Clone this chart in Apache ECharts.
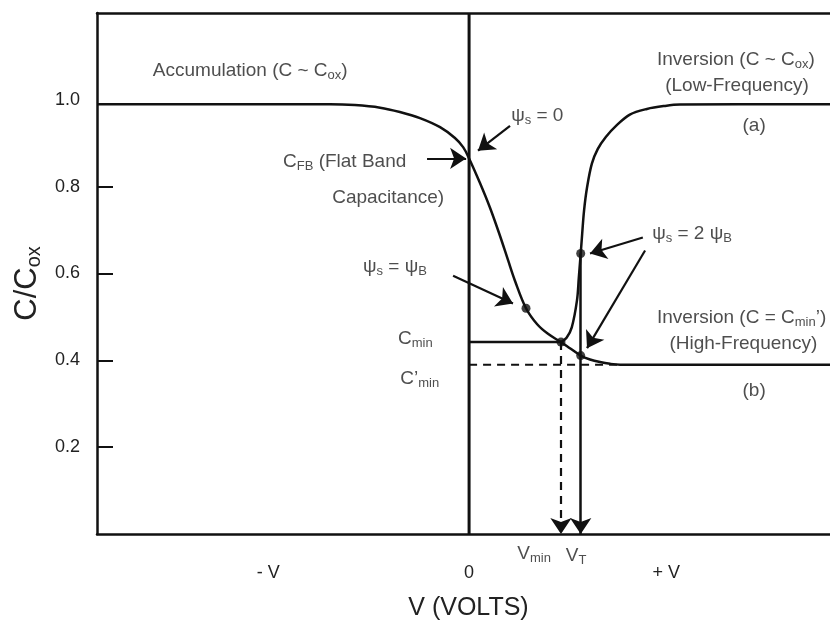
<!DOCTYPE html>
<html>
<head>
<meta charset="utf-8">
<script src="https://cdn.jsdelivr.net/npm/echarts@6/dist/echarts.min.js"></script>
<style>
  html, body { margin: 0; padding: 0; background: #fff; }
  #chart { width: 830px; height: 621px; }
</style>
</head>
<body>
<div id="chart"></div>
<script>
// MOS capacitor C-V characteristic (normalised capacitance vs gate voltage)

// Characteristic voltages and capacitances
const V_MIN = 2.47;
const V_T = 3.0;
const C_FB = 0.865;
const C_MIN = 0.442;
const C_MIN_HF = 0.39;
const V_PSI_B = 1.53;
const C_PSI_B = 0.52;
const C_VT_HF = 0.411;
const C_VT_LF = 0.646;

// High-frequency curve: accumulation -> depletion -> inversion (b)
const hfVolts = [-10, -3.74, -3.07, -2.39, -1.86, -1.32, -0.78, -0.38, -0.16, 0,
  0.29, 0.56, 0.83, 1.05, 1.23, 1.53, 1.83, 2.12, 2.47, 2.71, 3.0, 3.25, 3.52,
  3.79, 4.06, 4.46, 9.7];
const hfCap = [0.99, 0.99, 0.988, 0.982, 0.972, 0.958, 0.937, 0.912, 0.891, 0.865,
  0.809, 0.752, 0.687, 0.630, 0.584, 0.520, 0.483, 0.461, 0.442, 0.428, 0.411, 0.402, 0.396,
  0.392, 0.39, 0.39, 0.39];

// Low-frequency branch rising out of C_min: inversion (a)
const lfVolts = [2.47, 2.62, 2.76, 2.90, 2.95, 3.0, 3.04, 3.09, 3.17, 3.30, 3.46,
  3.68, 3.95, 4.32, 4.78, 5.27, 5.67, 9.7];
const lfCap = [0.442, 0.452, 0.476, 0.538, 0.591, 0.646, 0.692, 0.745, 0.798, 0.853,
  0.887, 0.915, 0.940, 0.966, 0.979, 0.986, 0.989, 0.99];

// Axis tick labels
const yTickValues = [0.2, 0.4, 0.6, 0.8, 1.0];
const yTickMarks = [0.2, 0.4, 0.6, 0.8];
const xTickValues = [-5.4, 0, 5.3];
const xTickLabels = ['- V', '0', '+ V'];

const FONT = '"Liberation Sans", Arial, sans-serif';
const INK = '#111';
const TEXT = '#222';

const rich = {
  n: { fontSize: 19, fontFamily: FONT, color: TEXT, lineHeight: 22 },
  s: { fontSize: 13, fontFamily: FONT, color: TEXT, lineHeight: 13,
       padding: [11, 0, 0, 0], verticalAlign: 'bottom' }
};

const zip = (xs, ys) => xs.map((x, i) => [x, ys[i]]);

// Text annotations: [x, y] anchor in data space, rich text, alignment, pixel offset
const notes = [
  { at: [-8.5, 1.067], text: '{n|Accumulation (C ~ C}{s|ox}{n|)}', align: 'left' },
  { at: [1.13, 0.963], text: '{n|ψ}{s|s}{n| = 0}', align: 'left' },
  { at: [-5.0, 0.858], text: '{n|C}{s|FB}{n| (Flat Band}', align: 'left' },
  { at: [-3.68, 0.775], text: '{n|Capacitance)}', align: 'left' },
  { at: [-2.85, 0.615], text: '{n|ψ}{s|s}{n| = ψ}{s|B}', align: 'left' },
  { at: [-1.91, 0.450], text: '{n|C}{s|min}', align: 'left' },
  { at: [-1.85, 0.358], text: '{n|C’}{s|min}', align: 'left' },
  { at: [4.92, 0.692], text: '{n|ψ}{s|s}{n| = 2 ψ}{s|B}', align: 'left' },
  { at: [5.05, 1.092], text: '{n|Inversion (C ~ C}{s|ox}{n|)}', align: 'left' },
  { at: [7.20, 1.032], text: '{n|(Low-Frequency)}', align: 'center' },
  { at: [7.66, 0.940], text: '{n|(a)}', align: 'center' },
  { at: [5.05, 0.497], text: '{n|Inversion (C = C}{s|min}{n|’)}', align: 'left' },
  { at: [7.37, 0.439], text: '{n|(High-Frequency)}', align: 'center' },
  { at: [7.66, 0.331], text: '{n|(b)}', align: 'center' },
  { at: [V_MIN, -0.045], text: '{n|V}{s|min}', align: 'right', offset: [-10, 0] },
  { at: [V_T, -0.05], text: '{n|V}{s|T}', align: 'left', offset: [-15, 0] }
];

// Pointer arrows: [tail, tip] in data space
const pointers = [
  [[1.10, 0.940], [0.24, 0.883]],
  [[-1.13, C_FB], [-0.08, C_FB]],
  [[-0.43, 0.595], [V_PSI_B - 0.35, C_PSI_B + 0.011]],
  [[4.67, 0.683], [V_T + 0.25, C_VT_LF]],
  [[4.73, 0.653], [V_T + 0.17, C_VT_HF + 0.017]]
];

const chart = echarts.init(document.getElementById('chart'), null, { renderer: 'canvas' });

const plainLine = (data, extra) => Object.assign({
  type: 'line', data, showSymbol: false, symbol: 'none', silent: true,
  lineStyle: { color: INK, width: 2.5 }, animation: false, z: 3
}, extra || {});

chart.setOption({
  animation: false,
  backgroundColor: '#fff',
  grid: { left: 97, right: 0, top: 13, bottom: 87, containLabel: false, outerBoundsMode: 'none' },
  xAxis: [{
    type: 'value', min: -10, max: 9.7,
    name: 'V (VOLTS)', nameLocation: 'middle', nameGap: 62,
    nameTextStyle: { fontSize: 25, fontFamily: FONT, color: TEXT, padding: [0, 0, 0, 10] },
    axisLine: { show: true, onZero: false, lineStyle: { color: INK, width: 2.5 } },
    axisTick: { show: false },
    splitLine: { show: false },
    axisLabel: {
      customValues: xTickValues, margin: 30,
      fontSize: 18, fontFamily: FONT, color: TEXT,
      formatter: v => xTickLabels[xTickValues.indexOf(v)] || ''
    }
  }, {
    type: 'value', min: -10, max: 9.7, position: 'top',
    axisLine: { show: true, onZero: false, lineStyle: { color: INK, width: 2.5 } },
    axisTick: { show: false }, axisLabel: { show: false }, splitLine: { show: false }
  }],
  yAxis: {
    type: 'value', min: 0, max: 1.2,
    name: '{m|C/C}{ms|ox}', nameLocation: 'middle', nameRotate: 90, nameGap: 52,
    nameTextStyle: {
      padding: [0, 20, 0, 0],
      rich: {
        m: { fontSize: 31, fontFamily: FONT, color: TEXT, lineHeight: 34 },
        ms: { fontSize: 20, fontFamily: FONT, color: TEXT, lineHeight: 20,
              padding: [15, 0, 0, 0], verticalAlign: 'bottom' }
      }
    },
    axisLine: { show: true, onZero: false, lineStyle: { color: INK, width: 2.5 } },
    axisTick: { show: true, inside: true, length: 16, customValues: yTickMarks,
                lineStyle: { color: INK, width: 2 } },
    splitLine: { show: false },
    axisLabel: {
      customValues: yTickValues, margin: 17,
      fontSize: 18, fontFamily: FONT, color: TEXT,
      formatter: v => v.toFixed(1)
    }
  },
  series: [
    // V = 0 reference line
    plainLine([[0, 0], [0, 1.2]], { lineStyle: { color: INK, width: 3 } }),
    // C-V curves
    plainLine(zip(hfVolts, hfCap), { smooth: 0.35 }),
    plainLine(zip(lfVolts, lfCap), { smooth: 0.35 }),
    // C_min and C'_min levels
    plainLine([[0, C_MIN], [V_MIN, C_MIN]]),
    plainLine([[0, C_MIN_HF], [4.06, C_MIN_HF]], { lineStyle: { color: INK, width: 2, type: [8, 6] } }),
    // V_min (dashed) and V_T (solid) drop arrows
    {
      type: 'lines', coordinateSystem: 'cartesian2d', silent: true, z: 4,
      symbol: ['none', 'arrow'], symbolSize: [12, 16],
      lineStyle: { color: INK, width: 2.2, type: [8, 6], opacity: 1 },
      data: [{ coords: [[V_MIN, C_MIN], [V_MIN, 0]] }]
    },
    {
      type: 'lines', coordinateSystem: 'cartesian2d', silent: true, z: 4,
      symbol: ['none', 'arrow'], symbolSize: [12, 16],
      lineStyle: { color: INK, width: 2.5, opacity: 1 },
      data: [{ coords: [[V_T, C_VT_LF], [V_T, 0]] }]
    },
    // Pointer arrows for the annotations
    {
      type: 'lines', coordinateSystem: 'cartesian2d', silent: true, z: 4,
      symbol: ['none', 'arrow'], symbolSize: [12, 16],
      lineStyle: { color: INK, width: 2.2, opacity: 1 },
      data: pointers.map(p => ({ coords: p }))
    },
    // Marked points on the curves
    {
      type: 'scatter', silent: true, z: 5, symbolSize: 9,
      itemStyle: { color: INK },
      data: [[V_PSI_B, C_PSI_B], [V_MIN, C_MIN], [V_T, C_VT_HF], [V_T, C_VT_LF]]
    },
    // Text annotations
    {
      type: 'scatter', silent: true, z: 6, symbolSize: 1, clip: false,
      itemStyle: { color: 'rgba(0,0,0,0)' },
      label: { show: true, position: 'inside', verticalAlign: 'middle', rich },
      data: notes.map(n => ({
        value: n.at,
        label: { formatter: n.text, align: n.align, offset: n.offset || [0, 0] }
      }))
    }
  ]
});
</script>
</body>
</html>
